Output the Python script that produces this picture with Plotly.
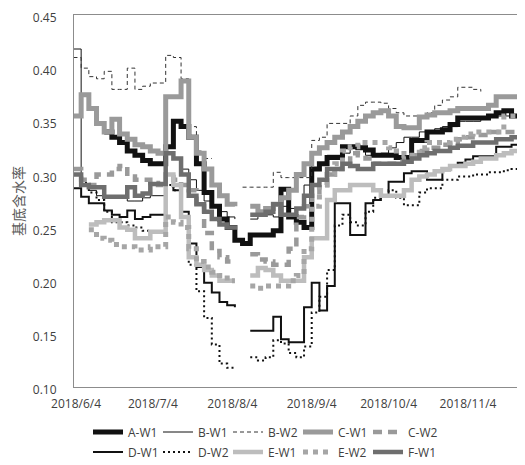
import plotly.graph_objects as go

dates = [
    "2018-06-03", "2018-06-06", "2018-06-09", "2018-06-12", "2018-06-15", "2018-06-18", "2018-06-21", "2018-06-24", "2018-06-27", "2018-06-30",
    "2018-07-03", "2018-07-06", "2018-07-09", "2018-07-12", "2018-07-15", "2018-07-18", "2018-07-21", "2018-07-24", "2018-07-27", "2018-07-30",
    "2018-08-02", "2018-08-05", "2018-08-08", "2018-08-11", "2018-08-14", "2018-08-17", "2018-08-20", "2018-08-23", "2018-08-26", "2018-08-29",
    "2018-09-01", "2018-09-04", "2018-09-07", "2018-09-10", "2018-09-13", "2018-09-16", "2018-09-19", "2018-09-22", "2018-09-25", "2018-09-28",
    "2018-10-01", "2018-10-04", "2018-10-07", "2018-10-10", "2018-10-13", "2018-10-16", "2018-10-19", "2018-10-22", "2018-10-25", "2018-10-28",
    "2018-10-31", "2018-11-03", "2018-11-06", "2018-11-09", "2018-11-12", "2018-11-15", "2018-11-18", "2018-11-21", "2018-11-24",
]

tick_vals = ["2018-06-04", "2018-07-04", "2018-08-04", "2018-09-04", "2018-10-04", "2018-11-04"]
tick_text = ["2018/6/4", "2018/7/4", "2018/8/4", "2018/9/4", "2018/10/4", "2018/11/4"]
y_ticks = [0.10, 0.15, 0.20, 0.25, 0.30, 0.35, 0.40, 0.45]

A_W1 = [
    None, None, None, None, 0.340, 0.335, 0.330, 0.322, 0.318, 0.313,
    0.310, 0.310, 0.326, 0.350, 0.345, 0.335, 0.310, 0.283, 0.270, 0.258,
    0.250, 0.238, 0.235, 0.243, 0.243, 0.243, 0.247, 0.286, 0.260, 0.255,
    0.250, 0.305, 0.310, 0.316, 0.316, 0.326, 0.326, 0.325, 0.323, 0.318,
    0.318, 0.318, 0.316, 0.316, 0.332, 0.332, 0.340, 0.340, 0.342, 0.347,
    0.353, 0.353, 0.353, 0.353, 0.355, 0.358, 0.360, 0.355, 0.353]

B_W1 = [
    0.418, 0.290, 0.285, 0.280, 0.278, 0.280, 0.280, 0.275, 0.275, 0.278,
    0.280, 0.280, 0.320, 0.315, 0.305, 0.295, 0.285, 0.275, 0.270, 0.265,
    0.260, 0.258, None, 0.258, 0.262, 0.262, 0.260, 0.270, 0.268, 0.268,
    0.290, 0.305, 0.310, 0.318, 0.318, 0.320, 0.325, 0.325, 0.318, 0.318,
    0.320, 0.325, 0.330, 0.335, 0.335, 0.340, 0.340, 0.343, 0.345, 0.345,
    0.350, 0.350, 0.350, 0.352, 0.355, 0.355, 0.355, 0.355, 0.355]

B_W2 = [
    0.410, 0.400, 0.392, 0.390, 0.397, 0.380, 0.380, 0.400, 0.380, 0.383,
    0.386, 0.386, 0.412, 0.410, 0.390, 0.345, 0.322, 0.315, 0.315, None,
    None, None, 0.288, 0.288, 0.288, 0.288, 0.302, 0.297, 0.297, 0.297,
    0.297, 0.332, 0.335, 0.348, 0.348, 0.348, 0.355, 0.365, 0.368, 0.368,
    0.367, 0.362, 0.358, 0.355, 0.355, 0.355, 0.358, 0.365, 0.370, 0.373,
    0.382, 0.382, 0.380, 0.378, None, None, None, None, None]

C_W1 = [
    0.355, 0.375, 0.362, 0.348, 0.340, 0.352, 0.338, 0.333, 0.328, 0.326,
    0.322, 0.320, 0.373, 0.373, 0.388, 0.335, 0.320, 0.305, 0.290, 0.280,
    0.272, 0.270, None, 0.270, 0.265, 0.268, 0.272, 0.278, 0.285, 0.300,
    0.310, 0.320, 0.325, 0.330, 0.335, 0.340, 0.345, 0.350, 0.355, 0.358,
    0.360, 0.355, 0.345, 0.344, 0.344, 0.354, 0.356, 0.358, 0.358, 0.360,
    0.362, 0.362, 0.362, 0.362, 0.365, 0.373, 0.373, 0.373, 0.373]

C_W2 = [
    0.305, 0.295, 0.290, 0.300, 0.300, 0.305, 0.308, 0.298, 0.295, 0.295,
    0.292, 0.290, 0.300, 0.295, 0.290, 0.285, 0.270, 0.245, 0.228, 0.222,
    0.218, 0.218, None, 0.225, 0.220, 0.218, 0.215, 0.215, 0.230, 0.260,
    0.270, 0.280, 0.290, 0.300, 0.305, 0.310, 0.320, 0.318, 0.315, 0.310,
    0.310, 0.310, 0.312, 0.315, 0.318, 0.322, 0.325, 0.325, 0.328, 0.330,
    0.333, 0.335, 0.335, 0.337, 0.340, 0.340, 0.340, 0.340, 0.340]

D_W1 = [
    0.287, 0.279, 0.273, 0.273, 0.266, 0.262, 0.260, 0.266, 0.258, 0.260,
    0.262, 0.262, 0.300, 0.285, 0.265, 0.235, 0.213, 0.198, 0.189, 0.180,
    0.177, 0.175, None, 0.153, 0.153, 0.153, 0.166, 0.145, 0.142, 0.142,
    0.175, 0.198, 0.172, 0.195, 0.273, 0.273, 0.243, 0.243, 0.273, 0.276,
    0.279, 0.293, 0.293, 0.301, 0.303, 0.303, 0.295, 0.295, 0.304, 0.307,
    0.311, 0.314, 0.317, 0.317, 0.317, 0.326, 0.326, 0.328, 0.328]

D_W2 = [
    0.300, 0.292, 0.283, 0.276, 0.265, 0.255, 0.255, 0.252, 0.250, 0.247,
    0.246, 0.246, 0.290, 0.285, 0.260, 0.215, 0.190, 0.165, 0.140, 0.122,
    0.118, 0.118, None, 0.128, 0.125, 0.128, 0.144, 0.141, 0.132, 0.128,
    0.138, 0.170, 0.185, 0.210, 0.252, 0.262, 0.255, 0.252, 0.265, 0.278,
    0.280, 0.285, 0.278, 0.271, 0.271, 0.283, 0.287, 0.287, 0.295, 0.295,
    0.298, 0.298, 0.300, 0.300, 0.302, 0.302, 0.304, 0.305, 0.306]

E_W1 = [
    None, None, 0.253, 0.255, 0.257, 0.257, 0.250, 0.248, 0.240, 0.240,
    0.246, 0.246, 0.300, 0.290, 0.260, 0.222, 0.215, 0.210, 0.205, 0.200,
    0.200, 0.200, None, 0.205, 0.212, 0.210, 0.205, 0.200, 0.200, 0.200,
    0.222, 0.240, 0.240, 0.276, 0.285, 0.285, 0.290, 0.290, 0.290, 0.285,
    0.280, 0.280, 0.280, 0.285, 0.295, 0.298, 0.300, 0.303, 0.305, 0.308,
    0.308, 0.310, 0.312, 0.315, 0.315, 0.318, 0.320, 0.322, 0.322]

E_W2 = [
    None, None, 0.248, 0.240, 0.238, 0.234, 0.232, 0.232, 0.229, 0.229,
    0.232, 0.232, 0.260, 0.255, 0.250, 0.230, 0.218, 0.213, 0.208, 0.205,
    0.200, 0.200, None, 0.195, 0.193, 0.195, 0.195, 0.195, 0.200, 0.205,
    0.230, 0.270, 0.290, 0.300, 0.310, 0.322, 0.326, 0.330, 0.330, 0.330,
    0.330, 0.325, 0.322, 0.318, 0.318, 0.325, 0.330, 0.330, 0.330, 0.333,
    0.335, 0.338, 0.340, 0.340, 0.340, 0.340, 0.355, 0.355, 0.355]

F_W1 = [
    0.300, 0.290, 0.288, 0.288, 0.279, 0.279, 0.279, 0.288, 0.280, 0.282,
    0.291, 0.291, 0.320, 0.315, 0.300, 0.280, 0.272, 0.265, 0.258, 0.253,
    0.250, 0.248, None, 0.262, 0.262, 0.265, 0.272, 0.262, 0.262, 0.268,
    0.280, 0.290, 0.295, 0.305, 0.305, 0.310, 0.308, 0.305, 0.305, 0.310,
    0.310, 0.310, 0.310, 0.312, 0.315, 0.318, 0.320, 0.322, 0.322, 0.325,
    0.327, 0.327, 0.330, 0.330, 0.330, 0.333, 0.333, 0.335, 0.335]

series = [
    ("A-W1", A_W1, "#111111", 5, "solid", "legend"),
    ("B-W1", B_W1, "#111111", 1, "solid", "legend"),
    ("B-W2", B_W2, "#333333", 1, "4px,3px", "legend"),
    ("C-W1", C_W1, "#9a9a9a", 5, "solid", "legend"),
    ("C-W2", C_W2, "#9a9a9a", 4.5, "9px,6px", "legend"),
    ("D-W1", D_W1, "#111111", 2, "solid", "legend2"),
    ("D-W2", D_W2, "#111111", 2, "2px,3px", "legend2"),
    ("E-W1", E_W1, "#bdbdbd", 4.5, "solid", "legend2"),
    ("E-W2", E_W2, "#a6a6a6", 5, "5px,5px", "legend2"),
    ("F-W1", F_W1, "#6e6e6e", 4.5, "solid", "legend2"),
]

fig = go.Figure()
for name, vals, color, width, dash, leg in series:
    fig.add_trace(go.Scatter(
        x=dates, y=vals, name=name, mode="lines", legend=leg,
        connectgaps=False,
        line=dict(shape="hv", color=color, width=width, dash=dash),
    ))

# the page body adds an 8px offset; layout positions compensate for it
W, H = 525, 465
font_main = "Open Sans"
legend_common = dict(
    orientation="h", xref="container", yref="container",
    x=80 / W, xanchor="left", yanchor="middle",
    entrywidth=25, entrywidthmode="pixels",
    font=dict(family=font_main, size=12, color="#404040"),
    bgcolor="rgba(0,0,0,0)", borderwidth=0,
    itemclick=False, itemdoubleclick=False,
)

fig.update_layout(
    width=W, height=H,
    margin=dict(l=66, r=8, t=7, b=86, autoexpand=False),
    paper_bgcolor="white", plot_bgcolor="white",
    font=dict(family=font_main, size=12, color="#404040"),
    legend=dict(y=1 - 424 / H, **legend_common),
    legend2=dict(y=1 - 444 / H, **legend_common),
    xaxis=dict(
        type="date",
        range=["2018-06-03 05:00", "2018-11-26 06:00"],
        tickvals=tick_vals, ticktext=tick_text,
        showgrid=False, zeroline=False,
        showline=True, linecolor="#8c8c8c", linewidth=1, mirror=True,
        ticks="", ticklabelstandoff=6, ticklabeloverflow="allow",
        tickfont=dict(family=font_main, size=12, color="#404040"),
    ),
    yaxis=dict(
        range=[0.10, 0.45], tickvals=y_ticks, tickformat=".2f",
        showgrid=False, zeroline=False,
        showline=True, linecolor="#8c8c8c", linewidth=1, mirror=True,
        ticks="", ticklabelstandoff=14, ticklabeloverflow="allow",
        ticklabelshift=3,
        tickfont=dict(family=font_main, size=12, color="#404040"),
        title=dict(text="基底含水率", standoff=8,
                   font=dict(family="Noto Sans CJK SC", size=14, color="#595959")),
    ),
)

fig.write_html("out.html")
